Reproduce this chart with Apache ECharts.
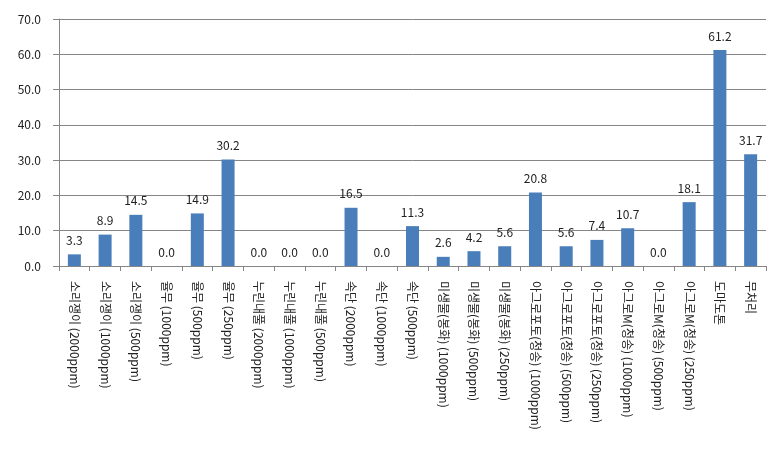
<!DOCTYPE html>
<html>
<head>
<meta charset="utf-8">
<script src="https://cdn.jsdelivr.net/npm/echarts@6/dist/echarts.min.js"></script>
<style>
html,body{margin:0;padding:0;background:#fff;}
#chart{width:782px;height:467px;}
</style>
</head>
<body>
<div id="chart"></div>
<script>
var categories = [
  "소리쟁이 (2000ppm)", "소리쟁이 (1000ppm)", "소리쟁이 (500ppm)",
  "율무 (1000ppm)", "율무 (500ppm)", "율무 (250ppm)",
  "누린내풀 (2000ppm)", "누린내풀 (1000ppm)", "누린내풀 (500ppm)",
  "속단 (2000ppm)", "속단 (1000ppm)", "속단 (500ppm)",
  "미생물(봉화) (1000ppm)", "미생물(봉화) (500ppm)", "미생물(봉화) (250ppm)",
  "아그로포토(청송) (1000ppm)", "아그로포토(청송) (500ppm)", "아그로포토(청송) (250ppm)",
  "아그로M(청송) (1000ppm)", "아그로M(청송) (500ppm)", "아그로M(청송) (250ppm)",
  "도마도톤", "무처리"
];
var values = [3.3, 8.9, 14.5, 0.0, 14.9, 30.2, 0.0, 0.0, 0.0, 16.5, 0.0, 11.3, 2.6, 4.2, 5.6, 20.8, 5.6, 7.4, 10.7, 0.0, 18.1, 61.2, 31.7];
var yTicks = [0, 10, 20, 30, 40, 50, 60, 70];

var font = "'Noto Sans CJK KR', 'Noto Sans', sans-serif";
var chart = echarts.init(document.getElementById('chart'));
chart.setOption({
  animation: false,
  backgroundColor: '#ffffff',
  grid: {left: 59, right: 16, top: 19, bottom: 201, containLabel: false},
  xAxis: {
    type: 'category',
    data: categories,
    boundaryGap: true,
    axisLine: {show: true, lineStyle: {color: '#868686', width: 1}},
    axisTick: {show: true, alignWithLabel: false, length: 5, lineStyle: {color: '#868686'}},
    axisLabel: {
      interval: 0, rotate: -90, margin: 15,
      color: '#222', fontSize: 12, fontFamily: font
    }
  },
  yAxis: {
    type: 'value',
    min: yTicks[0], max: yTicks[yTicks.length - 1], interval: 10,
    axisLine: {show: true, lineStyle: {color: '#868686', width: 1}},
    axisTick: {show: true, length: 6, lineStyle: {color: '#868686'}},
    splitLine: {show: true, lineStyle: {color: '#868686', width: 1}},
    axisLabel: {
      margin: 18, color: '#222', fontSize: 12, fontFamily: font,
      formatter: function (v) { return v.toFixed(1); }
    }
  },
  series: [{
    type: 'bar',
    data: values,
    barWidth: 13,
    itemStyle: {color: '#4a7ebb'},
    label: {
      show: true, position: 'top', distance: 8,
      color: '#222', fontSize: 12, fontFamily: font,
      formatter: function (p) { return p.value.toFixed(1); }
    }
  }]
});
</script>
</body>
</html>
